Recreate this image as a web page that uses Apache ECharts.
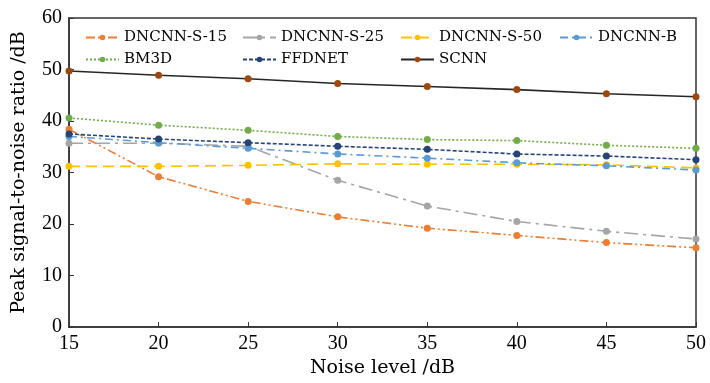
<!DOCTYPE html>
<html>
<head>
<meta charset="utf-8">
<script src="https://cdn.jsdelivr.net/npm/echarts@6/dist/echarts.min.js"></script>
<style>
  html, body { margin: 0; padding: 0; background: #fff; }
  #chart { width: 710px; height: 383px; }
</style>
</head>
<body>
<div id="chart"></div>
<script>
// noise levels on the x axis
const noiseLevels = [15, 20, 25, 30, 35, 40, 45, 50];

// PSNR per method
const dncnnS15 = [38.4, 29.2, 24.4, 21.4, 19.2, 17.8, 16.4, 15.4];
const dncnnS25 = [35.7, 35.7, 35.1, 28.5, 23.5, 20.5, 18.6, 17.1];
const dncnnS50 = [31.2, 31.2, 31.4, 31.7, 31.6, 31.6, 31.5, 30.9];
const dncnnB = [37.0, 35.8, 34.7, 33.6, 32.8, 31.9, 31.3, 30.5];
const bm3d = [40.6, 39.2, 38.2, 37.0, 36.4, 36.2, 35.3, 34.7];
const ffdnet = [37.5, 36.5, 35.8, 35.1, 34.5, 33.6, 33.2, 32.5];
const scnn = [49.7, 48.9, 48.2, 47.3, 46.7, 46.1, 45.3, 44.7];

const font = "DejaVu Serif";
const tickFont = "Liberation Serif";

function pairs(vals) {
  return noiseLevels.map((x, i) => [x, vals[i]]);
}

function mkSeries(name, vals, color, dash, lineColor) {
  return {
    name: name,
    type: "line",
    data: pairs(vals),
    symbol: "circle",
    symbolSize: 7,
    itemStyle: { color: color },
    lineStyle: { color: lineColor || color, width: 1.6, type: dash },
    emphasis: { disabled: true },
    animation: false
  };
}

const chart = echarts.init(document.getElementById("chart"));

// one legend per column so the columns line up like the original
function legendCol(names, left) {
  return {
    data: names,
    orient: "vertical",
    left: left,
    top: 30,
    padding: 0,
    itemGap: 7,
    itemWidth: 33,
    itemHeight: 7,
    textStyle: { fontFamily: font, fontSize: 15, color: "#000" }
  };
}

const option = {
  animation: false,
  grid: {
    left: 69, right: 14, top: 18, bottom: 47,
    show: true, borderColor: "#333", borderWidth: 1.5
  },
  legend: [
    legendCol(["DNCNN-S-15", "BM3D"], 85),
    legendCol(["DNCNN-S-25", "FFDNET"], 242),
    legendCol(["DNCNN-S-50", "SCNN"], 400),
    legendCol(["DNCNN-B"], 559)
  ],
  xAxis: {
    type: "value",
    min: 15, max: 50, interval: 5,
    name: "Noise level /dB",
    nameLocation: "middle",
    nameGap: 27,
    nameTextStyle: { fontFamily: font, fontSize: 19, color: "#000" },
    axisLine: { lineStyle: { color: "#333", width: 1.5 } },
    axisTick: { inside: true, length: 5, lineStyle: { color: "#333" } },
    axisLabel: { fontFamily: tickFont, fontSize: 20, color: "#000", margin: 7 },
    splitLine: { show: false }
  },
  yAxis: {
    type: "value",
    min: 0, max: 60, interval: 10,
    name: "Peak signal-to-noise ratio /dB",
    nameLocation: "middle",
    nameGap: 40,
    nameTextStyle: { fontFamily: font, fontSize: 19, color: "#000" },
    axisLine: { show: true, lineStyle: { color: "#333", width: 1.5 } },
    axisTick: { show: true, inside: true, length: 5, lineStyle: { color: "#333" } },
    axisLabel: { fontFamily: tickFont, fontSize: 20, color: "#000", margin: 7 },
    splitLine: { show: false }
  },
  series: [
    mkSeries("DNCNN-S-15", dncnnS15, "#ED7D31", [9, 3, 2, 3, 2, 3]),
    mkSeries("DNCNN-S-25", dncnnS25, "#A5A5A5", [14, 5, 3, 5]),
    mkSeries("DNCNN-S-50", dncnnS50, "#FFC000", [11, 6]),
    mkSeries("DNCNN-B", dncnnB, "#5B9BD5", [8, 4, 2, 4]),
    mkSeries("BM3D", bm3d, "#70AD47", [2, 2]),
    mkSeries("FFDNET", ffdnet, "#264478", [4, 2]),
    mkSeries("SCNN", scnn, "#9E480E", "solid", "#262626")
  ]
};

chart.setOption(option);
</script>
</body>
</html>
